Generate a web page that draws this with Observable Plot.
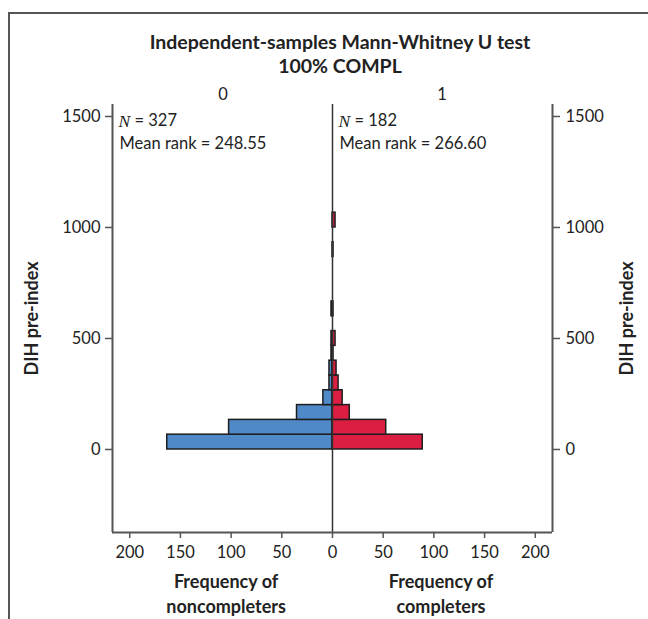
<!DOCTYPE html>
<html>
<head>
<meta charset="utf-8">
<script src="https://cdn.jsdelivr.net/npm/d3@7"></script>
<script src="https://cdn.jsdelivr.net/npm/@observablehq/plot@0.6"></script>
<style>
  body { margin: 0; background: #fff; }
  #wrap { position: relative; width: 648px; height: 619px; overflow: hidden; font-family: Lato, "Open Sans", sans-serif; color: #222; }
  #frame { position: absolute; left: 8px; top: 12px; width: 660px; height: 640px; border-top: 2px solid #555; border-left: 2px solid #555; }
  #title { position: absolute; left: 0; top: 30px; width: 680px; text-align: center; font-weight: bold; font-size: 19.5px; line-height: 24px; color: #222; }
  #chart { position: absolute; left: 0; top: 75px; }
</style>
</head>
<body>
<div id="wrap">
  <div id="frame"></div>
  <div id="title">Independent-samples Mann-Whitney U test<br>100% COMPL</div>
  <div id="chart"></div>
</div>
<script>
// Bins of DIH pre-index (lower and upper edges)
const binLow  = [0, 66.7, 133.3, 200, 266.7, 333.3, 400, 466.7, 533.3, 600, 666.7, 733.3, 800, 866.7, 933.3, 1000];
const binHigh = [66.7, 133.3, 200, 266.7, 333.3, 400, 466.7, 533.3, 600, 666.7, 733.3, 800, 866.7, 933.3, 1000, 1066.7];
// Frequencies
const noncompleters = [163, 102, 35, 9, 3, 3, 1, 1, 0, 1, 0, 0, 0, 0, 0, 0];
const completers    = [89, 53, 17, 10, 6, 4, 1, 3, 0, 1, 0, 0, 0, 1, 0, 3];
// Axis ticks
const xTicks = [-200, -150, -100, -50, 0, 50, 100, 150, 200];
const yTicks = [0, 500, 1000, 1500];
// Group labels
const groupNames = ["0", "1"];
const groupX = [-108, 108];
const groupN = ["= 327", "= 182"];
const groupMeanRank = ["Mean rank = 248.55", "Mean rank = 266.60"];
const groupAnchorX = [-217, 0];
const xTitles = ["Frequency of\nnoncompleters", "Frequency of\ncompleters"];
const xTitleX = [-105, 107];
const yTitle = "DIH pre-index";

const xDomain = [-217, 217];
const yDomain = [-374, 1554];

const left = binLow.map((y1, i) => ({y1, y2: binHigh[i], n: noncompleters[i]})).filter(d => d.n > 0);
const right = binLow.map((y1, i) => ({y1, y2: binHigh[i], n: completers[i]})).filter(d => d.n > 0);
const groups = groupNames.map((g, i) => ({g, x: groupX[i], ax: groupAnchorX[i], n: groupN[i], mr: groupMeanRank[i], t: xTitles[i], tx: xTitleX[i]}));

const axisColor = "#555";
const textColor = "#222";
const fs = 16.5;

const chart = Plot.plot({
  width: 648,
  height: 544,
  marginTop: 29,
  marginBottom: 87,
  marginLeft: 112,
  marginRight: 96,
  style: {fontFamily: "Lato, 'Open Sans', sans-serif", fontSize: "16px", color: textColor, background: "transparent", overflow: "visible"},
  x: {domain: xDomain},
  y: {domain: yDomain},
  marks: [
    Plot.rectX(left, {x1: 0, x2: d => -d.n, y1: "y1", y2: "y2", fill: "#4f89c8", stroke: "#1e1e1e", strokeWidth: 1.5}),
    Plot.rectX(right, {x1: 0, x2: "n", y1: "y1", y2: "y2", fill: "#dc1e42", stroke: "#1e1e1e", strokeWidth: 1.5}),
    Plot.ruleX([0], {stroke: "#333", strokeWidth: 1.5}),
    Plot.ruleX([xDomain[0], xDomain[1]], {stroke: axisColor, strokeWidth: 2}),
    Plot.ruleY([yDomain[0]], {stroke: axisColor, strokeWidth: 2}),
    Plot.axisY(yTicks, {anchor: "left", tickSize: 7, tickPadding: 5, tickFormat: d => String(d), stroke: axisColor, strokeWidth: 1.5, fill: textColor, fontSize: fs, label: null}),
    Plot.axisY(yTicks, {anchor: "right", tickSize: 7, tickPadding: 6, tickFormat: d => String(d), stroke: axisColor, strokeWidth: 1.5, fill: textColor, fontSize: fs, label: null}),
    Plot.axisX(xTicks, {anchor: "bottom", tickSize: 6, tickPadding: 8, tickFormat: d => String(Math.abs(d)), stroke: axisColor, strokeWidth: 1.5, fill: textColor, fontSize: fs, label: null}),
    // group labels on top
    Plot.text(groups, {x: "x", text: "g", frameAnchor: "top", dy: -16, fontSize: fs, fill: textColor}),
    // N and mean rank
    Plot.text(groups, {x: "ax", text: () => "N", frameAnchor: "top", textAnchor: "start", dx: 6, dy: 10, fontFamily: "'Liberation Serif', serif", fontStyle: "italic", fontSize: 17.5, fill: textColor}),
    Plot.text(groups, {x: "ax", text: "n", frameAnchor: "top", textAnchor: "start", dx: 22, dy: 10, fontSize: fs, fill: textColor}),
    Plot.text(groups, {x: "ax", text: "mr", frameAnchor: "top", textAnchor: "start", dx: 7, dy: 33, fontSize: fs, fill: textColor}),
    // x titles
    Plot.text(groups, {x: "tx", text: "t", frameAnchor: "bottom", lineAnchor: "top", dy: 38, lineHeight: 1.38, fontWeight: "bold", fontSize: 18, fill: textColor}),
    // y titles
    Plot.text([yTitle], {frameAnchor: "left", textAnchor: "middle", dx: -80, rotate: -90, fontWeight: "bold", fontSize: 18, fill: textColor}),
    Plot.text([yTitle], {frameAnchor: "right", textAnchor: "middle", dx: 75, rotate: -90, fontWeight: "bold", fontSize: 18, fill: textColor})
  ]
});
document.getElementById("chart").appendChild(chart);
</script>
</body>
</html>
